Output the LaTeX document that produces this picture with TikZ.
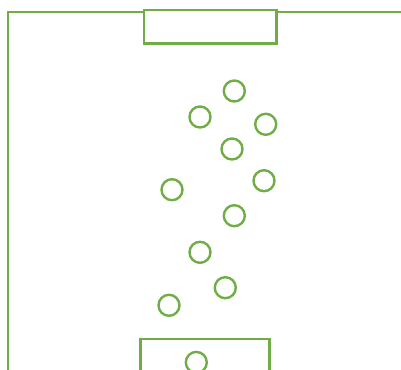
\documentclass[tikz,border=0pt]{standalone}
\definecolor{fgreen}{RGB}{112,173,71}
\begin{document}
\begin{tikzpicture}[x=1pt,y=-1pt,
  line/.style={draw=fgreen,line width=2.4pt},
  player/.style={circle,draw=fgreen,line width=2.4pt,minimum size=21pt,inner sep=0pt}]
\useasboundingbox (0,0) rectangle (401,369);
\draw[line] (8,370) -- (8,11.8) -- (401,11.8);
\draw[line,fill=white] (144,10) rectangle (276.5,43.5);
\draw[line] (140.3,371) -- (140.3,339) -- (269.3,339) -- (269.3,371);
\node[player] (p1) at (234.3,91) {};
\node[player] (p2) at (200,117) {};
\node[player] (p3) at (265.7,124.3) {};
\node[player] (p4) at (232,149) {};
\node[player] (p5) at (264,180.7) {};
\node[player] (p6) at (172,189.7) {};
\node[player] (p7) at (234.3,215.7) {};
\node[player] (p8) at (200,252.3) {};
\node[player] (p9) at (225.3,287.7) {};
\node[player] (p10) at (169,305.3) {};
\node[player] (p11) at (196.3,362.4) {};
\end{tikzpicture}
\end{document}
